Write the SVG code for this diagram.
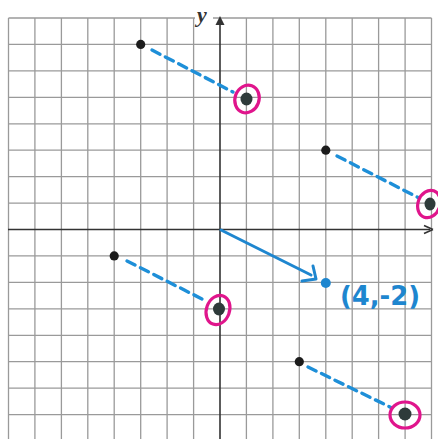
<svg xmlns="http://www.w3.org/2000/svg" width="438" height="439" viewBox="0 0 438 439">
<style>
.grid{stroke:#9a9a9a;stroke-width:1.3;fill:none}
.axis{stroke:#333;stroke-width:1.6;fill:none}
.dash{stroke:#1e8fd8;stroke-width:3.4;stroke-dasharray:9 6;stroke-linecap:round;fill:none}
.pt{fill:#1c1c1c}
.img{fill:#2e3b3a}
.ring{fill:none;stroke:#e0158c;stroke-width:3.2}
.vec{stroke:#1e86cf;stroke-width:3;fill:none;stroke-linecap:round;stroke-linejoin:round}
</style>
<rect width="438" height="439" fill="#ffffff"/>
<g id="grid">
<path class="grid" d="M8.5 18V439M34.9 18V439M61.4 18V439M87.8 18V439M114.2 18V439M140.7 18V439M167.1 18V439M193.6 18V439M246.4 18V439M272.9 18V439M299.3 18V439M325.8 18V439M352.2 18V439M378.6 18V439M405.1 18V439M431.5 18V439"/>
<path class="grid" d="M8.5 18H431.5M8.5 44.4H431.5M8.5 70.9H431.5M8.5 97.3H431.5M8.5 123.8H431.5M8.5 150.2H431.5M8.5 176.6H431.5M8.5 203.1H431.5M8.5 255.9H431.5M8.5 282.4H431.5M8.5 308.8H431.5M8.5 335.3H431.5M8.5 361.7H431.5M8.5 388.1H431.5M8.5 414.6H431.5"/>
</g>
<g id="axes">
<path class="axis" d="M8 229.5H430"/>
<path d="M433 229.5L424 225.5M433 229.5L424 233.5" class="axis"/>
<path class="axis" d="M220 439V20"/>
<path d="M220 16L215.5 25H224.5Z" fill="#333"/>
<rect x="195" y="8" width="18" height="16" fill="#ffffff"/>
<text x="197" y="22" font-family="Liberation Serif, serif" font-style="italic" font-weight="bold" font-size="22" fill="#333">y</text>
</g>
<g id="connectors">
<path class="dash" d="M152 50L233 92"/>
<path class="dash" d="M337 156L419 198"/>
<path class="dash" d="M127 261L206 301"/>
<path class="dash" d="M308 367L392 408"/>
<path class="vec" d="M221 230L311 275"/>
<path class="vec" d="M302 281L316 279L313 266"/>
</g>
<g id="p1"><circle class="pt" cx="140.7" cy="44.4" r="4.6"/></g>
<g id="p2"><circle class="pt" cx="325.8" cy="150.2" r="4.6"/></g>
<g id="p3"><circle class="pt" cx="114.2" cy="255.9" r="4.6"/></g>
<g id="p4"><circle class="pt" cx="299.3" cy="361.7" r="4.6"/></g>
<g id="i1"><ellipse class="ring" cx="247" cy="99" rx="12" ry="14" transform="rotate(20 247 99)"/><ellipse class="img" cx="246.5" cy="99" rx="6" ry="6.5"/></g>
<g id="i2"><ellipse class="ring" cx="429" cy="204" rx="11" ry="14" transform="rotate(20 429 204)"/><ellipse class="img" cx="430" cy="204" rx="5.5" ry="6.5"/></g>
<g id="i3"><ellipse class="ring" cx="218" cy="310" rx="11.5" ry="15" transform="rotate(20 218 310)"/><ellipse class="img" cx="219" cy="309" rx="6" ry="6.5"/></g>
<g id="i4"><ellipse class="ring" cx="405" cy="415" rx="15" ry="13"/><ellipse class="img" cx="405" cy="414" rx="6.5" ry="6.5"/></g>
<g id="target">
<circle cx="325.8" cy="283" r="5" fill="#1e86cf"/>
<text x="340" y="305" font-family="DejaVu Sans, sans-serif" font-weight="bold" font-size="26" fill="#1e86cf" textLength="80" lengthAdjust="spacingAndGlyphs">(4,-2)</text>
</g>
</svg>
